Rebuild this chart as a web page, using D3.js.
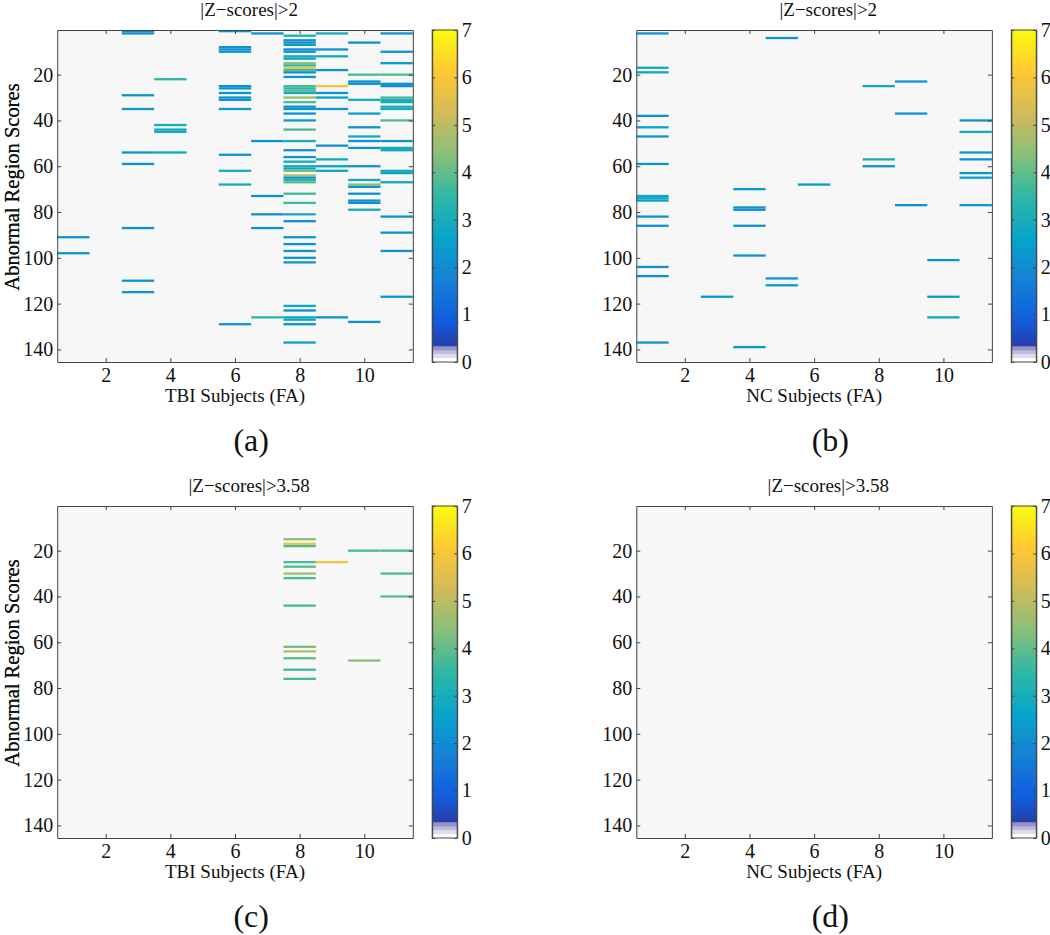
<!DOCTYPE html>
<html>
<head>
<meta charset="utf-8">
<script src="https://cdn.jsdelivr.net/npm/d3@7"></script>
<style>
  body { margin: 0; background: #ffffff; }
  svg { display: block; }
  text { font-family: "Liberation Serif", "Times New Roman", serif; fill: #111; }
</style>
</head>
<body>
<svg id="fig" width="1050" height="935"></svg>
<script>
// ---------------- data ----------------
const subjects = [1, 2, 3, 4, 5, 6, 7, 8, 9, 10, 11];
const regionCount = 145;
const xTicks = [2, 4, 6, 8, 10];
const yTicks = [20, 40, 60, 80, 100, 120, 140];
const cbTicks = [0, 1, 2, 3, 4, 5, 6, 7];
const thresholds = [2, 3.58];
const titles = ["|Z\u2212scores|>2", "|Z\u2212scores|>2", "|Z\u2212scores|>3.58", "|Z\u2212scores|>3.58"];
const xLabels = ["TBI Subjects (FA)", "NC Subjects (FA)", "TBI Subjects (FA)", "NC Subjects (FA)"];
const tags = ["(a)", "(b)", "(c)", "(d)"];
const yLabel = "Abnormal Region Scores";

// [subject, region, |z|] for TBI subjects (FA)
const tbiCells = [
  [1, 91, 2.3], [1, 98, 2.3],
  [3, 1, 2.1], [3, 2, 2.1], [3, 29, 2.3], [3, 35, 2.3], [3, 54, 2.3], [3, 59, 2.3], [3, 87, 2.2], [3, 110, 2.3], [3, 115, 2.3],
  [4, 22, 3.4], [4, 42, 3.0], [4, 44, 2.9], [4, 45, 2.9], [4, 54, 2.8],
  [6, 1, 2.3], [6, 8, 2.2], [6, 9, 2.2], [6, 10, 2.2], [6, 25, 2.2], [6, 26, 2.2], [6, 28, 2.3], [6, 30, 2.2], [6, 31, 2.2],
  [6, 35, 2.5], [6, 55, 2.2], [6, 62, 3.0], [6, 68, 3.0], [6, 129, 2.2],
  [7, 2, 2.1], [7, 17, 2.0], [7, 18, 2.0], [7, 49, 2.1], [7, 73, 2.1], [7, 81, 2.1], [7, 87, 2.2], [7, 126, 3.5],
  [8, 3, 3.2], [8, 5, 2.1], [8, 6, 2.2], [8, 7, 2.5], [8, 8, 2.0], [8, 9, 2.1], [8, 10, 2.2], [8, 12, 3.0], [8, 13, 2.6],
  [8, 15, 4.4], [8, 16, 3.3], [8, 17, 5.8], [8, 18, 3.8], [8, 19, 2.1], [8, 21, 2.2], [8, 25, 3.8], [8, 26, 3.4], [8, 27, 3.8],
  [8, 28, 3.0], [8, 30, 4.6], [8, 32, 3.8], [8, 34, 2.1], [8, 35, 2.3], [8, 37, 2.2], [8, 40, 2.4], [8, 44, 3.8], [8, 49, 3.0],
  [8, 53, 2.2], [8, 56, 2.2], [8, 58, 2.9], [8, 60, 2.9], [8, 61, 2.6], [8, 62, 4.2], [8, 64, 4.9], [8, 65, 2.2], [8, 66, 3.4],
  [8, 67, 3.9], [8, 72, 3.7], [8, 76, 3.7], [8, 81, 3.0], [8, 84, 2.1], [8, 91, 2.3], [8, 94, 2.2], [8, 97, 2.3], [8, 100, 2.2],
  [8, 102, 2.3], [8, 121, 2.8], [8, 123, 2.1], [8, 126, 2.9], [8, 127, 2.7], [8, 129, 2.2], [8, 137, 2.5],
  [9, 2, 3.0], [9, 9, 2.2], [9, 12, 2.9], [9, 18, 2.2], [9, 25, 5.9], [9, 28, 2.2], [9, 30, 2.6], [9, 35, 2.2], [9, 51, 2.1],
  [9, 57, 2.9], [9, 60, 2.6], [9, 62, 2.8], [9, 126, 2.2],
  [10, 6, 2.1], [10, 20, 3.7], [10, 23, 2.1], [10, 24, 2.1], [10, 31, 3.0], [10, 37, 2.6], [10, 43, 2.2], [10, 47, 2.9],
  [10, 49, 2.2], [10, 52, 2.1], [10, 60, 2.1], [10, 66, 3.0], [10, 68, 4.4], [10, 69, 2.2], [10, 72, 2.2], [10, 75, 2.1],
  [10, 76, 2.1], [10, 79, 2.9], [10, 128, 2.1],
  [11, 2, 2.2], [11, 10, 2.2], [11, 15, 2.3], [11, 20, 3.8], [11, 24, 2.1], [11, 25, 2.1], [11, 30, 3.8], [11, 31, 3.1],
  [11, 32, 3.0], [11, 34, 3.0], [11, 35, 3.1], [11, 40, 3.9], [11, 49, 2.2], [11, 52, 2.9], [11, 53, 2.7], [11, 62, 3.0],
  [11, 63, 2.8], [11, 67, 2.8], [11, 82, 2.2], [11, 89, 2.2], [11, 97, 2.2], [11, 117, 2.3]
];

// [subject, region, |z|] for NC subjects (FA)
const ncCells = [
  [1, 2, 2.2], [1, 17, 2.8], [1, 19, 2.8], [1, 38, 2.1], [1, 43, 2.6], [1, 47, 2.2], [1, 59, 2.2], [1, 73, 2.8], [1, 74, 2.8],
  [1, 75, 2.6], [1, 82, 2.2], [1, 86, 2.2], [1, 104, 2.2], [1, 108, 2.1], [1, 137, 2.2],
  [3, 117, 2.3],
  [4, 70, 2.3], [4, 78, 2.2], [4, 79, 2.1], [4, 86, 2.3], [4, 99, 2.2], [4, 139, 2.3],
  [5, 4, 2.3], [5, 109, 2.3], [5, 112, 2.4],
  [6, 68, 2.4],
  [8, 25, 2.9], [8, 57, 3.1], [8, 60, 2.3],
  [9, 23, 2.3], [9, 37, 2.2], [9, 77, 2.2],
  [10, 101, 2.3], [10, 117, 2.4], [10, 126, 2.8],
  [11, 40, 2.2], [11, 45, 2.9], [11, 54, 2.3], [11, 57, 2.2], [11, 63, 2.3], [11, 65, 2.5], [11, 77, 2.4]
];

// ---------------- colour map (parula with whitened low end) ----------------
const parulaStops = ["#352a87", "#0f5cdd", "#1481d6", "#06a4ca", "#2eb7a4", "#87bf77", "#d1bb59", "#fec832", "#f9fb0e"];
const lowBands = ["#ffffff", "#dcdcee", "#bcbcdf", "#9494c8"];
const cMax = 7;
const parula = d3.piecewise(d3.interpolateRgb, parulaStops);
const bandW = 0.085;
function colorOf(v) {
  if (v < bandW * lowBands.length) return lowBands[Math.floor(v / bandW)];
  return parula(Math.max(0, Math.min(1, v / cMax)));
}

// ---------------- layout ----------------
const svg = d3.select("#fig");
const pw = 355.6, ph = 332;
const panels = [
  { left: 57.2, top: 30, cells: tbiCells.filter(d => d[2] > thresholds[0]) },
  { left: 636.3, top: 30, cells: ncCells.filter(d => d[2] > thresholds[0]) },
  { left: 57.2, top: 506, cells: tbiCells.filter(d => d[2] > thresholds[1]) },
  { left: 636.3, top: 506, cells: ncCells.filter(d => d[2] > thresholds[1]) }
];
const axisColor = "#444";
const serif = "Liberation Serif";

panels.forEach((p, i) => {
  const g = svg.append("g").attr("transform", `translate(${p.left},${p.top})`);
  const x = d3.scaleLinear().domain([0.5, subjects.length + 0.5]).range([0, pw]);
  const y = d3.scaleLinear().domain([0.5, regionCount + 0.5]).range([0, ph]);

  g.append("rect").attr("width", pw).attr("height", ph).attr("fill", "#f7f7f7");

  g.append("g").selectAll("rect").data(p.cells).join("rect")
    .attr("x", d => x(d[0] - 0.5))
    .attr("width", d => x(d[0] + 0.5) - x(d[0] - 0.5))
    .attr("y", d => y(d[1] - 0.5))
    .attr("height", d => y(d[1] + 0.5) - y(d[1] - 0.5))
    .attr("fill", d => colorOf(d[2]));

  const fs = 20;
  const ax = [
    g.append("g").attr("transform", `translate(0,${ph})`)
      .call(d3.axisBottom(x).tickValues(xTicks).tickFormat(d3.format("d")).tickSizeInner(-4).tickSizeOuter(0).tickPadding(6)),
    g.append("g").call(d3.axisLeft(y).tickValues(yTicks).tickFormat(d3.format("d")).tickSizeInner(-4).tickSizeOuter(0).tickPadding(4)),
    g.append("g").call(d3.axisTop(x).tickValues(xTicks).tickSizeInner(-4).tickSizeOuter(0).tickFormat("")),
    g.append("g").attr("transform", `translate(${pw},0)`)
      .call(d3.axisRight(y).tickValues(yTicks).tickSizeInner(-4).tickSizeOuter(0).tickFormat(""))
  ];
  ax.forEach(a => {
    a.attr("font-family", serif).attr("font-size", fs);
    a.selectAll("path.domain").attr("stroke", axisColor);
    a.selectAll("line").attr("stroke", axisColor);
    a.selectAll("text").attr("fill", "#111");
  });

  // title
  g.append("text").attr("x", 192).attr("y", -14).attr("text-anchor", "middle")
    .attr("font-family", serif).attr("font-size", 19).text(titles[i]);
  // x label
  g.append("text").attr("x", pw / 2).attr("y", ph + 39.5).attr("text-anchor", "middle")
    .attr("font-family", serif).attr("font-size", 19).text(xLabels[i]);
  // y label
  g.append("text").attr("transform", `translate(${18.5 - p.left},${157}) rotate(-90)`)
    .attr("text-anchor", "middle").attr("font-family", serif).attr("font-size", 20.5).text(yLabel);
  // tag
  g.append("text").attr("x", 194).attr("y", ph + 89).attr("text-anchor", "middle")
    .attr("font-family", serif).attr("font-size", 32).text(tags[i]);

  // colorbar
  const cbx = 375, cbw = 25;
  const cb = g.append("g").attr("transform", `translate(${cbx},0)`);
  const cy = d3.scaleLinear().domain([0, cMax]).range([ph, 0]);
  const steps = d3.range(0, cMax, 0.0125);
  cb.selectAll("rect.s").data(steps).join("rect").attr("class", "s")
    .attr("x", 0).attr("width", cbw)
    .attr("y", d => cy(d + 0.0125) - 0.3)
    .attr("height", d => cy(d) - cy(d + 0.0125) + 0.6)
    .attr("fill", d => colorOf(d + 0.006));
  cb.append("rect").attr("width", cbw).attr("height", ph).attr("fill", "none").attr("stroke", axisColor);
  const cbA = cb.append("g").attr("transform", `translate(${cbw},0)`)
    .call(d3.axisRight(cy).tickValues(cbTicks).tickFormat(d3.format("d")).tickSizeInner(-3).tickSizeOuter(0).tickPadding(4.5));
  const cbB = cb.append("g")
    .call(d3.axisLeft(cy).tickValues(cbTicks).tickSizeInner(-3).tickSizeOuter(0).tickFormat(""));
  [cbA, cbB].forEach(a => {
    a.attr("font-family", serif).attr("font-size", fs);
    a.selectAll("path.domain").attr("stroke", axisColor);
    a.selectAll("line").attr("stroke", axisColor);
    a.selectAll("text").attr("fill", "#111");
  });
});
</script>
</body>
</html>
